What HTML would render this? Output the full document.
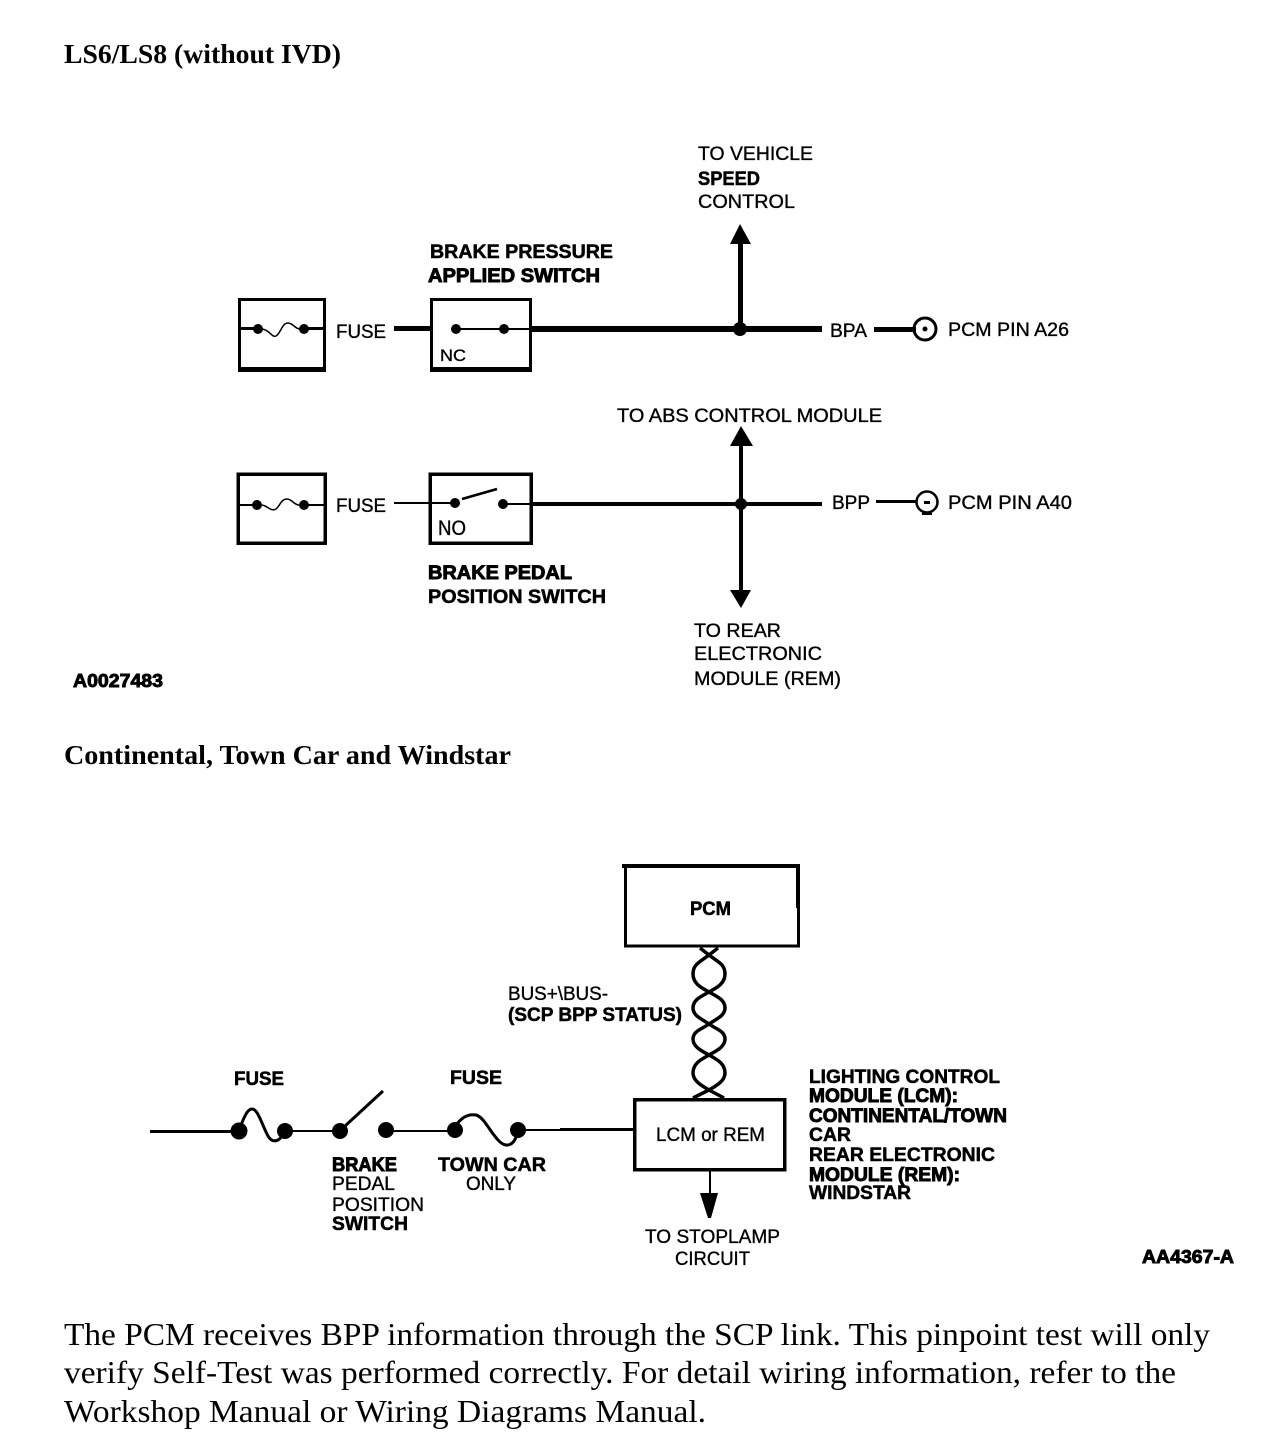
<!DOCTYPE html>
<html><head><meta charset="utf-8"><style>
html,body{margin:0;padding:0;background:#fff}
svg{display:block}
text{fill:#000;font-family:"Liberation Sans",sans-serif;font-size:19px;stroke:#000;stroke-width:.35px}
.b{font-weight:bold;stroke-width:.5px}
.x{stroke-width:.9px}
.s{font-family:"Liberation Serif",serif;stroke:none}
.h{font-weight:bold;font-size:27px}
.p{font-size:32px}
.k{fill:none;stroke:#000}
</style></head><body>
<svg width="1264" height="1454" viewBox="0 0 1264 1454" xmlns="http://www.w3.org/2000/svg">
<rect width="1264" height="1454" fill="#fff"/>
<text class="s h" x="64" y="63" textLength="277" lengthAdjust="spacingAndGlyphs">LS6/LS8 (without IVD)</text>
<text class="s h" x="64" y="764" textLength="447" lengthAdjust="spacingAndGlyphs">Continental, Town Car and Windstar</text>
<text class="s p" x="64" y="1345" textLength="1146" lengthAdjust="spacingAndGlyphs">The PCM receives BPP information through the SCP link. This pinpoint test will only</text>
<text class="s p" x="64" y="1383" textLength="1112" lengthAdjust="spacingAndGlyphs">verify Self-Test was performed correctly. For detail wiring information, refer to the</text>
<text class="s p" x="64" y="1422" textLength="642" lengthAdjust="spacingAndGlyphs">Workshop Manual or Wiring Diagrams Manual.</text>

<!-- Diagram 1, top row -->
<g shape-rendering="crispEdges">
<rect class="k" x="239.5" y="299.5" width="85" height="70" stroke-width="3"/><rect x="238" y="367" width="88" height="5"/>
<rect class="k" x="431.5" y="299.5" width="99" height="70" stroke-width="3"/><rect x="430" y="367" width="102" height="5"/>
<rect x="240" y="327" width="17" height="3"/><rect x="306" y="327" width="19" height="3"/>
<rect x="394" y="326" width="36" height="5"/><rect x="456" y="328" width="48" height="2"/><rect x="504" y="328" width="28" height="2"/>
<rect x="530" y="326" width="292" height="6"/><rect x="738" y="238" width="5" height="90"/><rect x="874" y="327" width="42" height="5"/>
</g>
<circle cx="258" cy="329" r="5"/><circle cx="304" cy="329" r="5"/>
<path class="k" stroke-width="1.5" d="M262 329C270 330 272 338 276 336C281 333 282 323 288 323C293 323 295 329 300 329"/>
<circle cx="456" cy="329" r="5"/><circle cx="504" cy="329" r="5"/>
<circle cx="740" cy="329" r="7"/><path d="M740 224L751 244H730Z"/>
<circle class="k" cx="925" cy="329" r="11" stroke-width="3"/><circle cx="925" cy="329" r="2.5"/>
<text x="698" y="160" textLength="115" lengthAdjust="spacingAndGlyphs">TO VEHICLE</text>
<text class="b" x="698" y="185" textLength="62" lengthAdjust="spacingAndGlyphs">SPEED</text>
<text x="698" y="208" textLength="97" lengthAdjust="spacingAndGlyphs">CONTROL</text>
<text class="b" x="430" y="258" textLength="183" lengthAdjust="spacingAndGlyphs">BRAKE PRESSURE</text>
<text class="b x" x="428" y="282" textLength="172" lengthAdjust="spacingAndGlyphs">APPLIED SWITCH</text>
<text x="336" y="338" font-size="20" textLength="50" lengthAdjust="spacingAndGlyphs">FUSE</text>
<text x="440" y="361" style="font-size:17px" textLength="26" lengthAdjust="spacingAndGlyphs">NC</text>
<text x="830" y="337" textLength="37" lengthAdjust="spacingAndGlyphs">BPA</text>
<text x="948" y="336" textLength="121" lengthAdjust="spacingAndGlyphs">PCM PIN A26</text>

<!-- Diagram 1, bottom row -->
<g shape-rendering="crispEdges">
<rect class="k" x="238" y="474" width="87" height="69" stroke-width="3.5"/>
<rect class="k" x="430" y="474" width="101" height="69" stroke-width="3.5"/>
<rect x="240" y="504" width="17" height="2"/><rect x="306" y="504" width="19" height="2"/>
<rect x="394" y="502" width="64" height="2"/><rect x="504" y="503" width="28" height="2"/>
<rect x="530" y="502" width="292" height="4"/><rect x="739" y="440" width="4" height="152"/><rect x="876" y="500" width="40" height="3"/>
</g>
<circle cx="257" cy="505" r="5"/><circle cx="304" cy="505" r="5"/>
<path class="k" stroke-width="1.5" d="M262 505C268 506 271 512 276 509C280 506 281 499 287 499C292 499 294 505 299 505"/>
<circle cx="455" cy="503" r="5"/><circle cx="503" cy="504" r="5"/>
<path class="k" stroke-width="2.5" d="M462 499L497 489"/>
<circle cx="741" cy="504" r="6"/><path d="M741 426L753 446H730Z"/><path d="M730 590H751L741 608Z"/>
<circle class="k" cx="927" cy="502" r="10.5" stroke-width="2.5"/><rect x="924" y="501" width="6" height="3"/><rect x="922" y="512" width="10" height="3"/>
<text x="617" y="422" textLength="265" lengthAdjust="spacingAndGlyphs">TO ABS CONTROL MODULE</text>
<text x="336" y="512" textLength="50" lengthAdjust="spacingAndGlyphs">FUSE</text>
<text x="438" y="535" style="font-size:21px" textLength="28" lengthAdjust="spacingAndGlyphs">NO</text>
<text class="b x" x="428" y="579" textLength="144" lengthAdjust="spacingAndGlyphs">BRAKE PEDAL</text>
<text x="428" y="603" class="b" textLength="178" lengthAdjust="spacingAndGlyphs">POSITION SWITCH</text>
<text x="832" y="509" textLength="38" lengthAdjust="spacingAndGlyphs">BPP</text>
<text x="948" y="509" textLength="124" lengthAdjust="spacingAndGlyphs">PCM PIN A40</text>
<text x="694" y="637" textLength="87" lengthAdjust="spacingAndGlyphs">TO REAR</text>
<text x="694" y="660" textLength="128" lengthAdjust="spacingAndGlyphs">ELECTRONIC</text>
<text x="694" y="685" textLength="147" lengthAdjust="spacingAndGlyphs">MODULE (REM)</text>
<text class="b x" x="73" y="687" style="font-size:18px" textLength="90" lengthAdjust="spacingAndGlyphs">A0027483</text>

<!-- Diagram 2 -->
<g shape-rendering="crispEdges">
<rect class="k" x="625.5" y="866.5" width="173" height="79.5" stroke-width="3"/><rect x="622" y="864" width="178" height="4"/><rect x="796" y="866" width="4" height="42"/>
<rect class="k" x="634.5" y="1099.5" width="150" height="70" stroke-width="3.5"/>
<rect x="150" y="1130" width="90" height="3"/><rect x="285" y="1130" width="55" height="2"/><rect x="386" y="1130" width="70" height="2"/><rect x="518" y="1129" width="42" height="2"/><rect x="560" y="1128" width="74" height="3"/>
<rect x="709" y="1171" width="2" height="24"/>
</g>
<path class="k" stroke-width="3.5" d="M700 948L709 955C718 962 725 964 725 974C725 984 716 988 709 992C700 997 693 1000 693 1008C693 1016 702 1019 709 1024C716 1029 725 1031 725 1039C725 1047 716 1051 709 1055C702 1059 693 1063 693 1073C693 1081 702 1086 709 1090L724 1098"/>
<path class="k" stroke-width="3.5" d="M718 948L709 955C700 962 693 964 693 974C693 984 702 988 709 992C718 997 725 1000 725 1008C725 1016 716 1019 709 1024C702 1029 693 1031 693 1039C693 1047 702 1051 709 1055C716 1059 725 1063 725 1073C725 1081 716 1086 709 1090L693 1098"/>
<circle cx="239" cy="1131" r="8.5"/><circle cx="285" cy="1131" r="8"/>
<path class="k" stroke-width="3" d="M241 1125C245 1115 248 1109 252 1109C258 1109 262 1125 268 1136C272 1143 278 1142 282 1136"/>
<circle cx="340" cy="1131" r="8"/><circle cx="386" cy="1130" r="8"/>
<path class="k" stroke-width="3" d="M345 1126L383 1091"/>
<circle cx="455" cy="1130" r="8"/><circle cx="518" cy="1130" r="8"/>
<path class="k" stroke-width="3" d="M457 1124C463 1116 470 1114 476 1115C484 1117 490 1132 499 1141C506 1148 514 1146 517 1134"/>
<path d="M700 1193H718L711 1218H708Z"/>
<text class="b" x="690" y="915" textLength="41" lengthAdjust="spacingAndGlyphs">PCM</text>
<text x="508" y="1000" textLength="100" lengthAdjust="spacingAndGlyphs">BUS+\BUS-</text>
<text class="b" x="508" y="1021" textLength="174" lengthAdjust="spacingAndGlyphs">(SCP BPP STATUS)</text>
<text class="b" x="234" y="1085" textLength="50" lengthAdjust="spacingAndGlyphs">FUSE</text>
<text class="b" x="450" y="1084" textLength="52" lengthAdjust="spacingAndGlyphs">FUSE</text>
<text class="b x" x="332" y="1171" textLength="65" lengthAdjust="spacingAndGlyphs">BRAKE</text>
<text x="332" y="1190" textLength="63" lengthAdjust="spacingAndGlyphs">PEDAL</text>
<text x="332" y="1211" textLength="92" lengthAdjust="spacingAndGlyphs">POSITION</text>
<text class="b" x="332" y="1230" textLength="76" lengthAdjust="spacingAndGlyphs">SWITCH</text>
<text class="b" x="438" y="1171" textLength="108" lengthAdjust="spacingAndGlyphs">TOWN CAR</text>
<text x="466" y="1190" textLength="50" lengthAdjust="spacingAndGlyphs">ONLY</text>
<text x="656" y="1141" textLength="109" lengthAdjust="spacingAndGlyphs">LCM or REM</text>
<text class="b" x="809" y="1083" textLength="191" lengthAdjust="spacingAndGlyphs">LIGHTING CONTROL</text>
<text class="b x" x="809" y="1102" textLength="149" lengthAdjust="spacingAndGlyphs">MODULE (LCM):</text>
<text class="b x" x="809" y="1122" textLength="198" lengthAdjust="spacingAndGlyphs">CONTINENTAL/TOWN</text>
<text class="b" x="809" y="1141" textLength="42" lengthAdjust="spacingAndGlyphs">CAR</text>
<text class="b" x="809" y="1161" textLength="186" lengthAdjust="spacingAndGlyphs">REAR ELECTRONIC</text>
<text class="b x" x="809" y="1181" textLength="151" lengthAdjust="spacingAndGlyphs">MODULE (REM):</text>
<text class="b" x="809" y="1199" textLength="102" lengthAdjust="spacingAndGlyphs">WINDSTAR</text>
<text x="645" y="1243" textLength="135" lengthAdjust="spacingAndGlyphs">TO STOPLAMP</text>
<text x="675" y="1265" textLength="75" lengthAdjust="spacingAndGlyphs">CIRCUIT</text>
<text class="b x" x="1142" y="1263" style="font-size:18px" textLength="92" lengthAdjust="spacingAndGlyphs">AA4367-A</text>
</svg>
</body></html>
